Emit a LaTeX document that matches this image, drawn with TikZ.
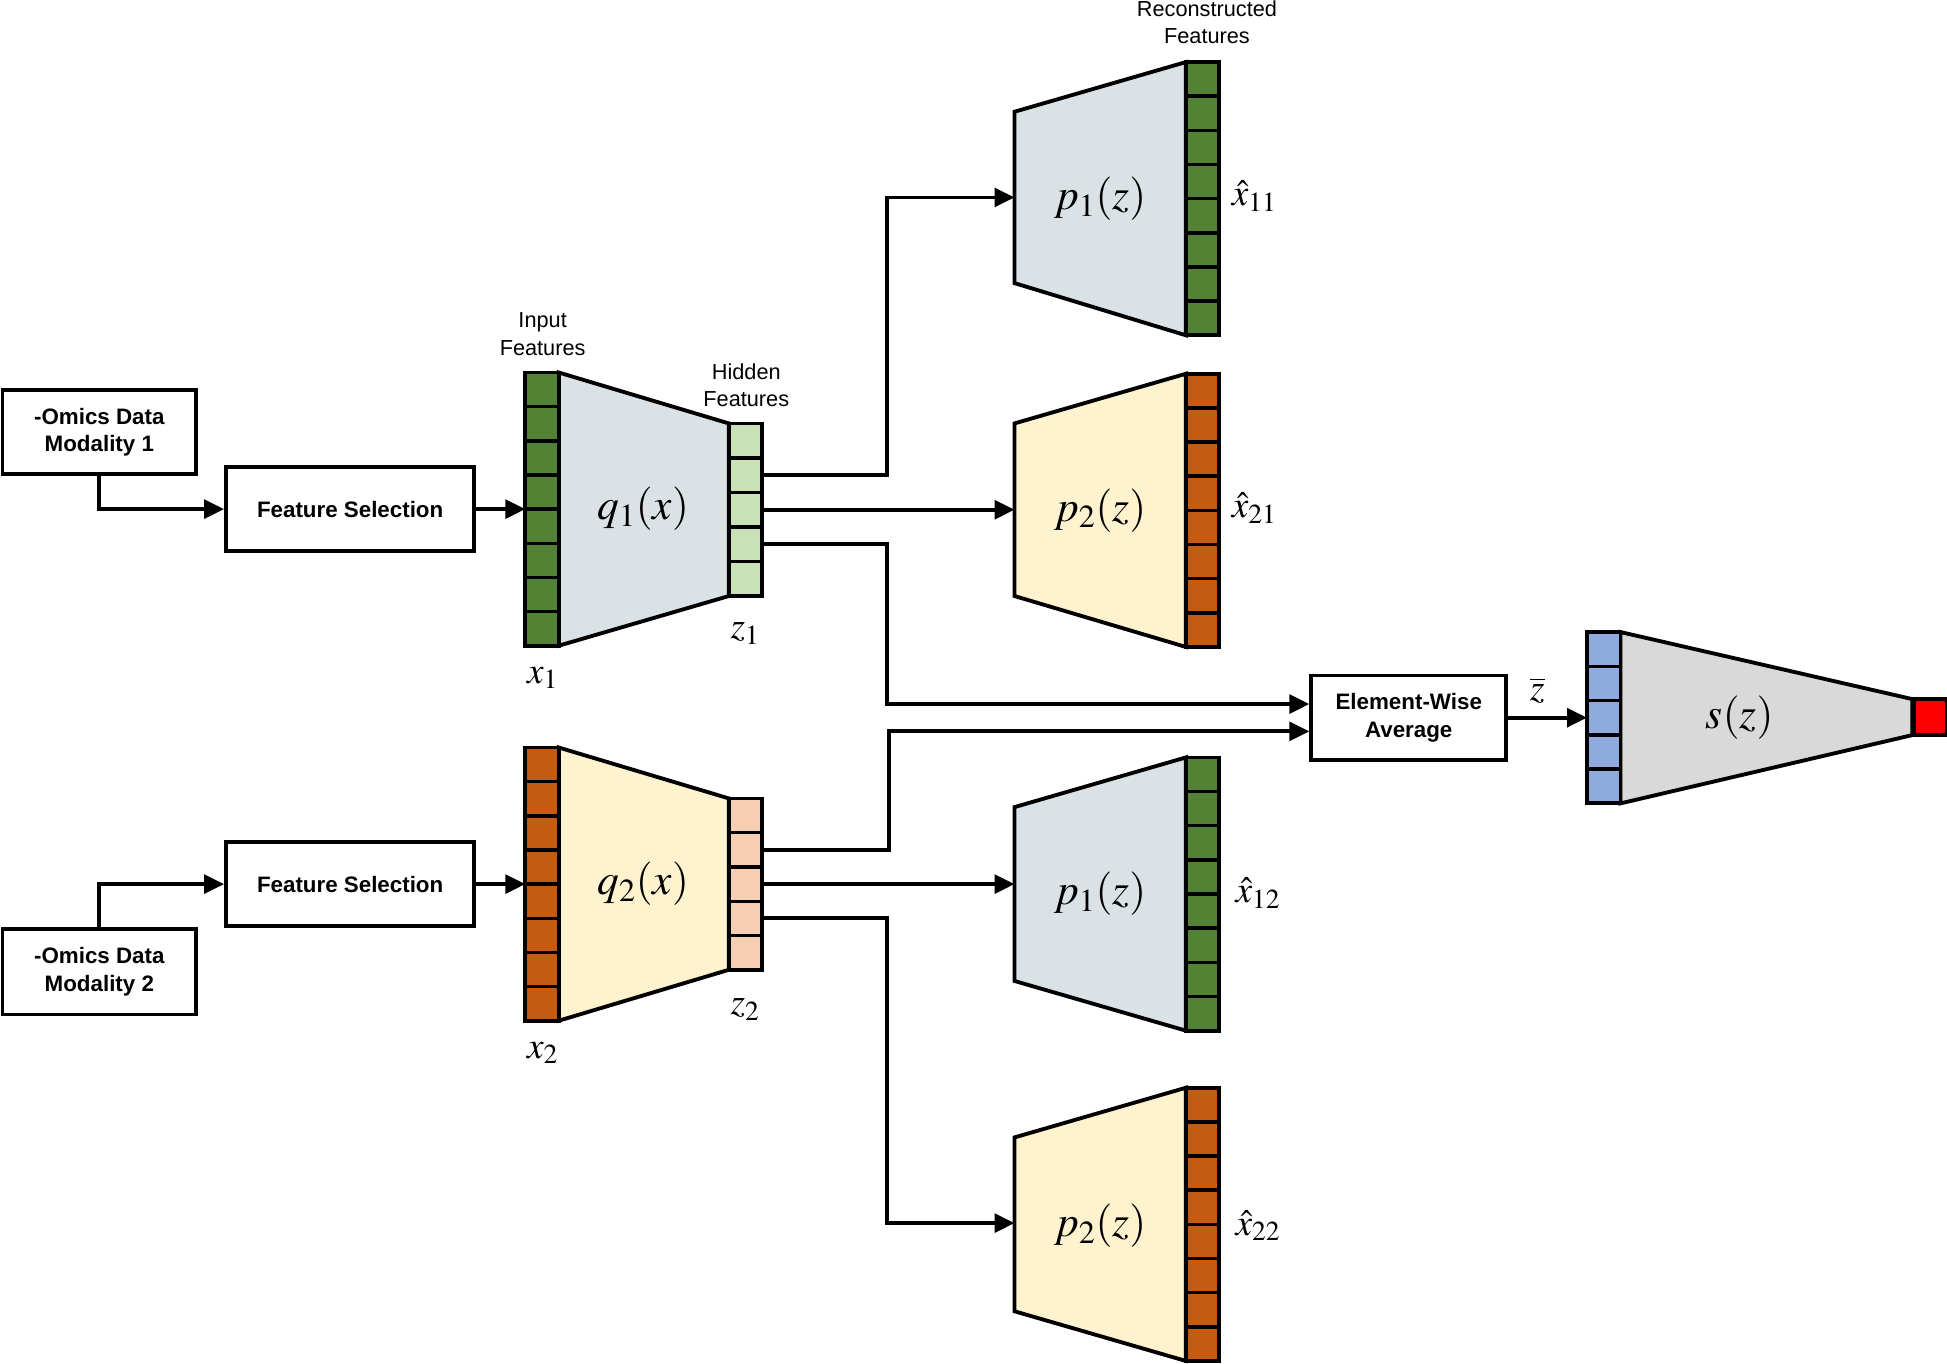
\documentclass[tikz,border=0pt]{standalone}
\usepackage{mathptmx}
\usepackage{fontspec}
\setmainfont{Liberation Serif}
\setsansfont{Liberation Sans}
\usetikzlibrary{arrows.meta,calc}
\definecolor{dgreen}{RGB}{84,130,53}
\definecolor{dorange}{RGB}{197,90,17}
\definecolor{lgreen}{RGB}{200,225,182}
\definecolor{salmon}{RGB}{246,206,178}
\definecolor{bgray}{RGB}{219,226,230}
\definecolor{cream}{RGB}{255,242,206}
\definecolor{sblue}{RGB}{143,170,220}
\definecolor{sgray}{RGB}{217,217,217}
\definecolor{sred}{RGB}{255,0,0}
\newcommand\featbar[6]{%
  \node[cellbar, fill=#6, minimum height=#4pt-#3pt] (#1) at (#2,#3) {};
  \foreach \k in {1,...,#5}{\draw[line width=2.8pt] ($(#1.north west)!{\k/#5}!(#1.south west)$) -- ($(#1.north east)!{\k/#5}!(#1.south east)$);}
}
\begin{document}
\begin{tikzpicture}[x=1pt,y=-1pt,
  box/.style={draw, line width=3.1pt, fill=white, inner sep=0pt, align=center,
    font=\sffamily\bfseries\fontsize{18}{22}\selectfont},
  conn/.style={line width=3.1pt, -{Triangle[length=16pt,width=15pt]}},
  trap/.style={draw, line width=3.1pt, line join=miter},
  cellbar/.style={draw, line width=3.1pt, inner sep=0pt, outer sep=0pt, minimum width=27pt, anchor=north west},
  captxt/.style={font=\sffamily\fontsize{17.5}{22}\selectfont, align=center, inner sep=0pt},
  mlabel/.style={font=\fontsize{35}{40}\selectfont, inner sep=0pt},
  vlabel/.style={font=\fontsize{30}{34}\selectfont, inner sep=0pt}]
\useasboundingbox (0,0) rectangle (1568,1098);

% ---- input boxes
\node[box, minimum width=156pt, minimum height=68pt] (om1) at (80,348) {-Omics Data\\Modality 1};
\node[box, minimum width=200pt, minimum height=68pt] (fs1) at (282,410) {Feature Selection};
\node[box, minimum width=156pt, minimum height=69pt] (om2) at (80,782.5) {-Omics Data\\Modality 2};
\node[box, minimum width=200pt, minimum height=68pt] (fs2) at (282,712) {Feature Selection};
\node[box, minimum width=157pt, minimum height=68pt] (ewa) at (1134.5,578) {Element-Wise\\Average};

% ---- encoders
\path[trap, fill=bgray] (450,300) -- (587,341) -- (587,480) -- (450,520) -- cycle;
\featbar{x1}{423}{300}{520}{8}{dgreen}
\featbar{z1}{587}{341}{480}{5}{lgreen}
\path[trap, fill=cream] (450,602) -- (587,643) -- (587,781) -- (450,822) -- cycle;
\featbar{x2}{423}{602}{822}{8}{dorange}
\featbar{z2}{587}{643}{781}{5}{salmon}

% ---- decoders
\path[trap, fill=bgray] (817,90) -- (955,50) -- (955,270) -- (817,228) -- cycle;
\featbar{xh11}{955}{50}{270}{8}{dgreen}
\path[trap, fill=cream] (817,341) -- (955,301) -- (955,521) -- (817,480) -- cycle;
\featbar{xh21}{955}{301}{521}{8}{dorange}
\path[trap, fill=bgray] (817,650) -- (955,610) -- (955,830) -- (817,790) -- cycle;
\featbar{xh12}{955}{610}{830}{8}{dgreen}
\path[trap, fill=cream] (817,916) -- (955,876) -- (955,1096) -- (817,1056) -- cycle;
\featbar{xh22}{955}{876}{1096}{8}{dorange}

% ---- classifier
\path[trap, fill=sgray] (1305,509) -- (1540,563) -- (1540,592) -- (1305,647) -- cycle;
\featbar{sb}{1278}{509}{647}{5}{sblue}
\node[draw, line width=3.1pt, fill=sred, inner sep=0pt, minimum width=26pt, minimum height=29pt, anchor=west] (out) at (1540,577.5) {};

% ---- named connector points
\coordinate (p1ain) at (817,159);
\coordinate (p2ain) at (817,410);
\coordinate (p1bin) at (817,712);
\coordinate (p2bin) at (817,985);
\coordinate (jx) at (714,0);
\coordinate (z1c2) at ($(z1.north east)!0.3!(z1.south east)$);
\coordinate (z1c3) at ($(z1.north east)!0.5!(z1.south east)$);
\coordinate (z1c4) at ($(z1.north east)!0.7!(z1.south east)$);
\coordinate (z2c2) at ($(z2.north east)!0.3!(z2.south east)$);
\coordinate (z2c3) at ($(z2.north east)!0.5!(z2.south east)$);
\coordinate (z2c4) at ($(z2.north east)!0.7!(z2.south east)$);
\coordinate (ewain1) at ($(ewa.west)+(0,-11)$);
\coordinate (ewain2) at ($(ewa.west)+(0,11)$);

% ---- connectors
\draw[conn] (om1.south) |- (fs1.west);
\draw[conn] (fs1.east) -- (fs1.east -| x1.west);
\draw[conn] (om2.north) |- (fs2.west);
\draw[conn] (fs2.east) -- (fs2.east -| x2.west);

\draw[conn] (z1c2) -| (jx |- p1ain) -- (p1ain);
\draw[conn] (z1c3) -- (z1c3 -| p2ain);
\draw[conn] (z1c4) -| (jx |- ewain1) -- (ewain1);
\draw[conn] (z2c2) -| ($(jx |- ewain2)+(2,0)$) -- (ewain2);
\draw[conn] (z2c3) -- (z2c3 -| p1bin);
\draw[conn] (z2c4) -| (jx |- p2bin) -- (p2bin);
\draw[conn] (ewa.east) -- (ewa.east -| sb.west);

% ---- captions
\node[captxt] (capin) at (437,269) {Input\\Features};
\node[captxt] (caphid) at (601,310) {Hidden\\Features};
\node[captxt] (caprec) at (972,18) {Reconstructed\\Features};

% ---- math labels
\node[mlabel] (lq1) at (518,410) {$q_1(x)$};
\node[mlabel] (lq2) at (518,712) {$q_2(x)$};
\node[mlabel] (lp1a) at (886,160) {$p_1(z)$};
\node[mlabel] (lp2a) at (886,411) {$p_2(z)$};
\node[mlabel] (lp1b) at (886,720) {$p_1(z)$};
\node[mlabel] (lp2b) at (886,987) {$p_2(z)$};
\node[mlabel] (ls) at (1401,578) {$s(z)$};
\node[vlabel] (lx1) at (437,546) {$x_1$};
\node[vlabel] (lz1) at (600,510) {$z_1$};
\node[vlabel] (lx2) at (437,848) {$x_2$};
\node[vlabel] (lz2) at (600,813) {$z_2$};
\node[vlabel] (lxh11) at (1010,158) {$\hat{x}_{11}$};
\node[vlabel] (lxh21) at (1010,409) {$\hat{x}_{21}$};
\node[vlabel] (lxh12) at (1013,719) {$\hat{x}_{12}$};
\node[vlabel] (lxh22) at (1013,987) {$\hat{x}_{22}$};
\node[vlabel] (lzbar) at (1238,556) {$\overline{z}$};
\end{tikzpicture}
\end{document}
